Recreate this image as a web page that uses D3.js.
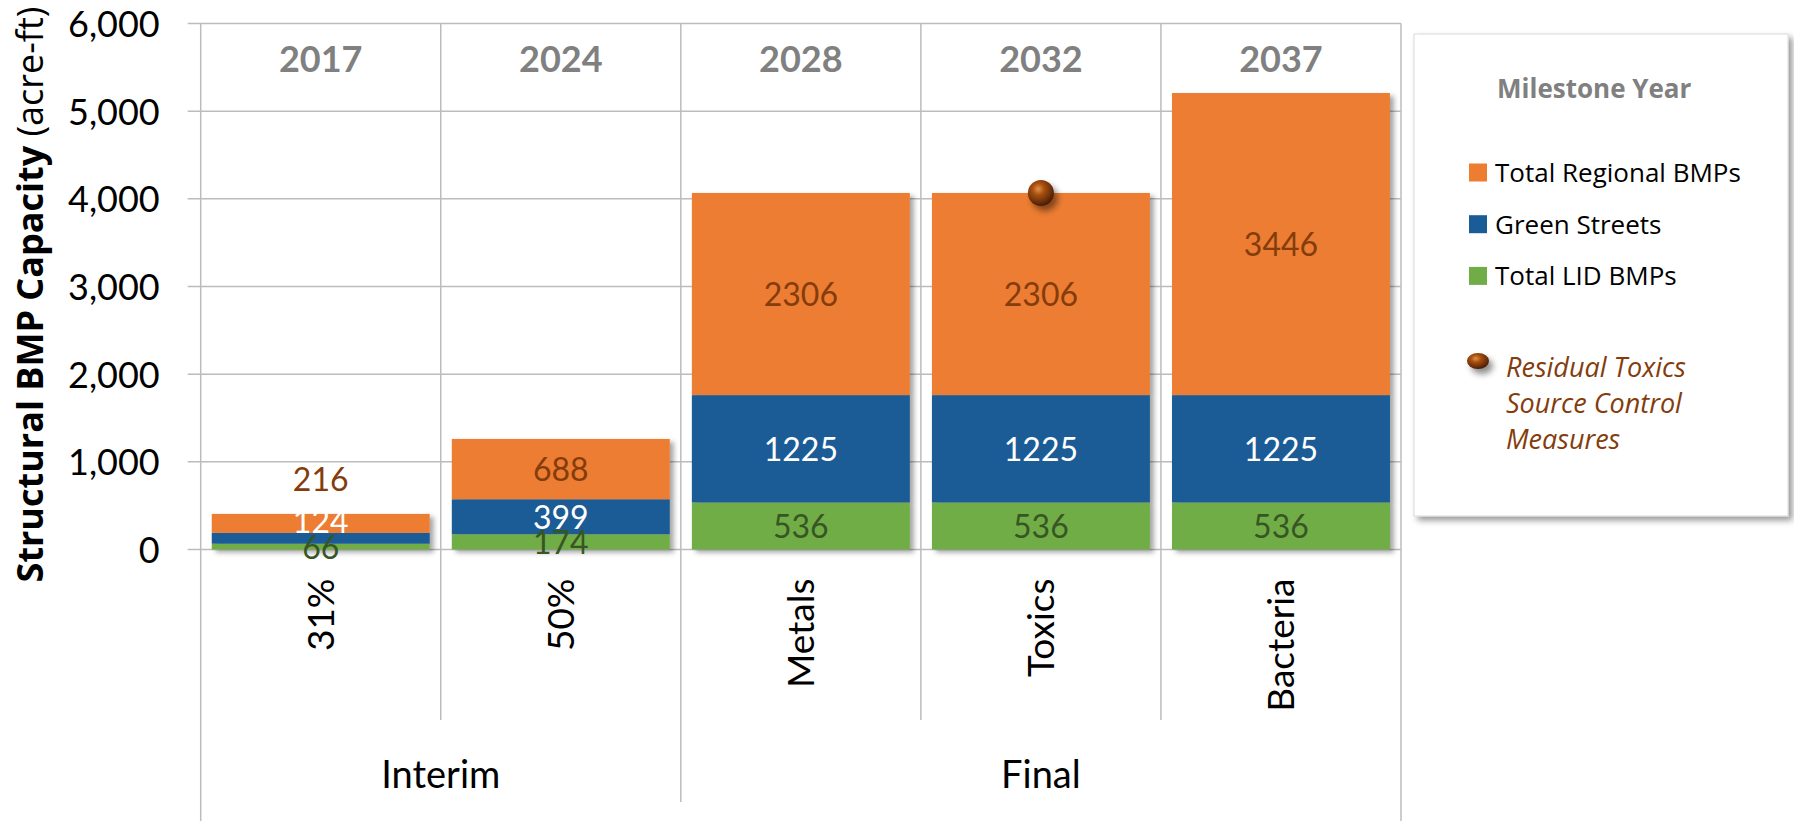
<!DOCTYPE html>
<html>
<head>
<meta charset="utf-8">
<script src="https://cdn.jsdelivr.net/npm/d3@7"></script>
<style>
  body { margin: 0; background: #fff; }
  svg { display: block; }
</style>
</head>
<body>
<svg id="chart" width="1794" height="821"></svg>
<script>
// ---- data ----
var categories = ["31%", "50%", "Metals", "Toxics", "Bacteria"];
var years = ["2017", "2024", "2028", "2032", "2037"];
var groups = ["Interim", "Interim", "Final", "Final", "Final"];
var lidBMPs = [66, 174, 536, 536, 536];
var greenStreets = [124, 399, 1225, 1225, 1225];
var regionalBMPs = [216, 688, 2306, 2306, 3446];
var residualToxics = [{ category: "Toxics", value: 4067 }];
var yTicks = [0, 1000, 2000, 3000, 4000, 5000, 6000];
var keys = ["lid", "green", "regional"];
var seriesNames = { regional: "Total Regional BMPs", green: "Green Streets", lid: "Total LID BMPs" };

var table = categories.map(function (c, i) {
    return { cat: c, year: years[i], group: groups[i], lid: lidBMPs[i], green: greenStreets[i], regional: regionalBMPs[i] };
});

var svg = d3.select("#chart"),
    margin = { top: 23.5, right: 393, bottom: 271.5, left: 200.7 },
    width = +svg.attr("width") - margin.left - margin.right,
    height = +svg.attr("height") - margin.top - margin.bottom,
    g = svg.append("g").attr("transform", "translate(" + margin.left + "," + margin.top + ")");

var x = d3.scaleBand()
    .domain(categories)
    .range([0, width])
    .paddingInner(0.092)
    .paddingOuter(0.046);

var y = d3.scaleLinear()
    .domain([0, 6000])
    .range([height, 0]);

var z = d3.scaleOrdinal()
    .domain(keys)
    .range(["#70AD47", "#1A5C96", "#ED7D31"]);

var labelColor = { lid: "#375623", green: "#ffffff", regional: "#843C0C" };

var gridColor = "#bcbcbc";

// ---- defs ----
var defs = svg.append("defs");
var f = defs.append("filter").attr("id", "barShadow")
    .attr("x", "-10%").attr("y", "-10%").attr("width", "130%").attr("height", "130%");
f.append("feDropShadow").attr("dx", 4).attr("dy", 3).attr("stdDeviation", 2.5)
    .attr("flood-color", "#000").attr("flood-opacity", 0.35);

var f2 = defs.append("filter").attr("id", "boxShadow")
    .attr("x", "-10%").attr("y", "-10%").attr("width", "130%").attr("height", "130%");
f2.append("feDropShadow").attr("dx", 4).attr("dy", 4).attr("stdDeviation", 3)
    .attr("flood-color", "#000").attr("flood-opacity", 0.4);

var f3 = defs.append("filter").attr("id", "ballShadow")
    .attr("x", "-50%").attr("y", "-50%").attr("width", "220%").attr("height", "220%");
f3.append("feDropShadow").attr("dx", 4).attr("dy", 5).attr("stdDeviation", 3)
    .attr("flood-color", "#000").attr("flood-opacity", 0.45);

var grad = defs.append("radialGradient").attr("id", "ballGrad")
    .attr("cx", "40%").attr("cy", "35%").attr("r", "65%");
grad.append("stop").attr("offset", "0%").attr("stop-color", "#e0904a");
grad.append("stop").attr("offset", "35%").attr("stop-color", "#a9500f");
grad.append("stop").attr("offset", "100%").attr("stop-color", "#4a1e04");

// ---- horizontal gridlines ----
g.append("g")
    .selectAll("line")
    .data(yTicks)
    .enter().append("line")
    .attr("x1", -13)
    .attr("x2", width)
    .attr("y1", function (d) { return y(d); })
    .attr("y2", function (d) { return y(d); })
    .attr("stroke", gridColor)
    .attr("stroke-width", 1.5);

// ---- vertical separators (chart + multi-level axis) ----
var bottomInner = 696.5, bottomGroup = 778.5, bottomOuter = 797.5;
g.append("g")
    .selectAll("line")
    .data(d3.range(categories.length + 1))
    .enter().append("line")
    .attr("x1", function (i) { return i * x.step(); })
    .attr("x2", function (i) { return i * x.step(); })
    .attr("y1", 0)
    .attr("y2", function (i) {
        if (i === 0 || i === categories.length) return bottomOuter;
        if (groups[i - 1] !== groups[i]) return bottomGroup;
        return bottomInner;
    })
    .attr("stroke", gridColor)
    .attr("stroke-width", 1.5);

// ---- y axis labels ----
var yAxis = g.append("g")
    .call(d3.axisLeft(y).tickValues(yTicks).tickSize(0).tickPadding(41).tickFormat(d3.format(",")));
yAxis.select(".domain").remove();
yAxis.selectAll("text")
    .attr("font-family", "Lato, sans-serif")
    .attr("font-size", 36)
    .attr("fill", "#000")
    .attr("dy", "0.36em");

// ---- bars ----
var stacked = d3.stack().keys(keys)(table);

g.append("g")
    .attr("filter", "url(#barShadow)")
    .selectAll("g")
    .data(stacked)
    .enter().append("g")
    .attr("fill", function (d) { return z(d.key); })
    .selectAll("rect")
    .data(function (d) { return d; })
    .enter().append("rect")
    .attr("x", function (d) { return x(d.data.cat); })
    .attr("y", function (d) { return y(d[1]); })
    .attr("width", x.bandwidth())
    .attr("height", function (d) { return y(d[0]) - y(d[1]); });

// ---- data labels: centred; thin segments pushed up, thin top segment goes above the bar ----
var labelGap = 26, labelFit = 22, outsideOffset = 35;
var labels = [];
table.forEach(function (row, i) {
    var prev = null;
    stacked.forEach(function (s, k) {
        var seg = s[i];
        var h = y(seg[0]) - y(seg[1]);
        var cy = (y(seg[0]) + y(seg[1])) / 2;
        if (prev !== null && h < labelFit) {
            if (k === stacked.length - 1) cy = Math.min(cy, y(seg[1]) - outsideOffset);
            else if (prev - cy < labelGap) cy = prev - labelGap;
        }
        prev = cy;
        labels.push({ cat: row.cat, key: s.key, value: seg[1] - seg[0], cy: cy });
    });
});

g.append("g")
    .selectAll("text")
    .data(labels)
    .enter().append("text")
    .attr("x", function (d) { return x(d.cat) + x.bandwidth() / 2; })
    .attr("y", function (d) { return d.cy; })
    .attr("dy", "0.38em")
    .attr("text-anchor", "middle")
    .attr("font-family", "Lato, sans-serif")
    .attr("font-size", 32)
    .attr("fill", function (d) { return labelColor[d.key]; })
    .text(function (d) { return d.value; });

// ---- milestone years on top ----
g.append("g")
    .selectAll("text")
    .data(table)
    .enter().append("text")
    .attr("x", function (d) { return x(d.cat) + x.bandwidth() / 2; })
    .attr("y", 48.5)
    .attr("text-anchor", "middle")
    .attr("font-family", "Lato, sans-serif")
    .attr("font-weight", "bold")
    .attr("font-size", 36)
    .attr("fill", "#808080")
    .text(function (d) { return d.year; });

// ---- residual toxics marker ----
g.append("g")
    .selectAll("circle")
    .data(residualToxics)
    .enter().append("circle")
    .attr("cx", function (d) { return x(d.category) + x.bandwidth() / 2; })
    .attr("cy", function (d) { return y(d.value); })
    .attr("r", 13)
    .attr("fill", "url(#ballGrad)")
    .attr("filter", "url(#ballShadow)");

// ---- category labels (rotated) ----
g.append("g")
    .selectAll("text")
    .data(table)
    .enter().append("text")
    .attr("transform", function (d) {
        return "translate(" + (x(d.cat) + x.bandwidth() / 2) + "," + (height + 29) + ") rotate(-90)";
    })
    .attr("dy", "0.36em")
    .attr("text-anchor", "end")
    .attr("font-family", "Lato, sans-serif")
    .attr("font-size", 37)
    .attr("fill", "#000")
    .text(function (d) { return d.cat; });

// ---- group labels ----
var groupNames = Array.from(new Set(groups));
g.append("g")
    .selectAll("text")
    .data(groupNames)
    .enter().append("text")
    .attr("x", function (name) {
        var idx = d3.range(groups.length).filter(function (i) { return groups[i] === name; });
        return (d3.min(idx) + d3.max(idx) + 1) / 2 * x.step();
    })
    .attr("y", height + 238)
    .attr("text-anchor", "middle")
    .attr("font-family", "Lato, sans-serif")
    .attr("font-size", 38)
    .attr("fill", "#000")
    .text(function (d) { return d; });

// ---- y axis title ----
var title = svg.append("text")
    .attr("transform", "translate(43," + (margin.top + height / 2 + 8) + ") rotate(-90)")
    .attr("text-anchor", "middle")
    .attr("font-family", "'Open Sans', sans-serif")
    .attr("font-size", 36)
    .attr("fill", "#000");
title.append("tspan").attr("font-weight", "bold").text("Structural BMP Capacity");
title.append("tspan").text(" (acre-ft)");

// ---- legend ----
var legend = svg.append("g")
    .attr("transform", "translate(1414,34)");

legend.append("rect")
    .attr("width", 374)
    .attr("height", 482)
    .attr("fill", "#fff")
    .attr("stroke", "#d9d9d9")
    .attr("stroke-width", 1)
    .attr("filter", "url(#boxShadow)");

legend.append("text")
    .attr("x", 83)
    .attr("y", 64)
    .attr("font-family", "'Open Sans', sans-serif")
    .attr("font-weight", "bold")
    .attr("font-size", 26)
    .attr("fill", "#808080")
    .text("Milestone Year");

var item = legend.selectAll("g.item")
    .data(keys.slice().reverse())
    .enter().append("g")
    .attr("class", "item")
    .attr("transform", function (d, i) { return "translate(0," + (138.5 + i * 51.7) + ")"; });

item.append("rect")
    .attr("x", 55)
    .attr("y", -9)
    .attr("width", 18)
    .attr("height", 18)
    .attr("fill", z);

item.append("text")
    .attr("x", 81)
    .attr("dy", "0.36em")
    .attr("font-family", "'Open Sans', sans-serif")
    .attr("font-size", 26)
    .attr("fill", "#000")
    .text(function (d) { return seriesNames[d]; });

legend.append("ellipse")
    .attr("cx", 64)
    .attr("cy", 327)
    .attr("rx", 11)
    .attr("ry", 8)
    .attr("fill", "url(#ballGrad)")
    .attr("filter", "url(#ballShadow)");

legend.append("text")
    .attr("font-family", "'Open Sans', sans-serif")
    .attr("font-style", "italic")
    .attr("font-size", 27)
    .attr("fill", "#843C0C")
    .selectAll("tspan")
    .data(["Residual Toxics", "Source Control", "Measures"])
    .enter().append("tspan")
    .attr("x", 92)
    .attr("y", function (d, i) { return 343 + i * 36; })
    .text(function (d) { return d; });
</script>
</body>
</html>
